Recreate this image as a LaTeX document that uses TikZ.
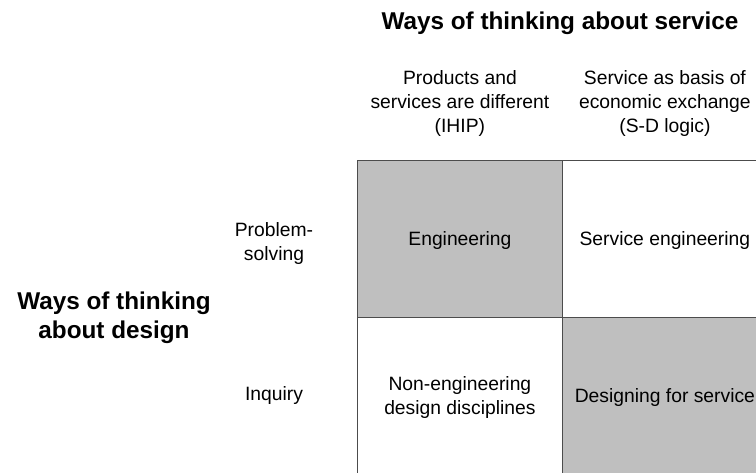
\documentclass[tikz,border=0pt]{standalone}
\usepackage{fontspec}
\setmainfont{Liberation Sans}
\usetikzlibrary{positioning}
\tikzset{
  cell/.style={draw=black!70, line width=0.8pt, minimum width=205pt, minimum height=157pt,
    inner sep=0pt, text depth=0pt, align=center, font=\fontsize{19.3}{24}\selectfont},
  shaded/.style={cell, fill=black!25},
  plain/.style={cell, fill=white},
  head/.style={align=center, font=\fontsize{19.3}{24}\selectfont},
  title/.style={align=center, font=\fontsize{24.3}{29}\selectfont\bfseries}
}
\begin{document}
\begin{tikzpicture}[x=1pt, y=-1pt]
    \clip (0,0) rectangle (756,472);
    \fill[white] (0,0) rectangle (756,472);
    % the four cells
    \node[shaded, anchor=north west] (eng) at (357,160) {Engineering};
    \node[plain, anchor=north west] (seng) at (562,160) {Service engineering};
    \node[plain, anchor=north west] (noneng) at (357,317) {Non-engineering\\design disciplines};
    \node[shaded, anchor=north west] (dfs) at (562,317) {Designing for service};
    % column heads
    \node[title] (service) at (560,23) {Ways of thinking about service};
    \node[head, above=20pt of eng.north] (ihip) {Products and\\services are different\\(IHIP)};
    \node[head, above=20pt of seng.north] (sdl) {Service as basis of\\economic exchange\\(S-D logic)};
    % row heads
    \node[head] (problem) at (274,244) {Problem-\\solving};
    \node[head] (inquiry) at (274,396) {Inquiry};
    \node[title] (design) at (114,318) {Ways of thinking\\about design};
\end{tikzpicture}
\end{document}
